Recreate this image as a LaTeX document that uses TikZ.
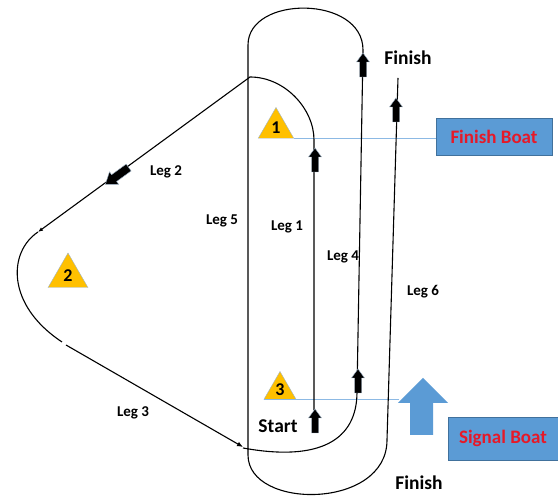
\documentclass[tikz,border=0pt]{standalone}
\usepackage{fontspec}
\setmainfont{Carlito}
\usepackage{tikz}
\usetikzlibrary{calc,arrows.meta,shapes.geometric}
\definecolor{markgold}{RGB}{255,192,0}
\definecolor{markedge}{RGB}{160,180,200}
\definecolor{boatblue}{RGB}{91,155,213}
\definecolor{boatedge}{RGB}{65,113,156}
\definecolor{boatred}{RGB}{230,25,40}
\definecolor{guideblue}{RGB}{140,185,228}
\tikzset{
  blockarrow/.pic={
    \filldraw[fill=black, draw=markedge, line width=.4pt]
      (-3.5,-12) -- (-3.5,3) -- (-6.5,3) -- (0,12) -- (6.5,3) -- (3.5,3) -- (3.5,-12) -- cycle;
  }
}

\begin{document}
\begin{tikzpicture}[x=1pt,y=1pt,
    course/.style={line width=1.1pt},
    guide/.style={guideblue, line width=1pt},
    legtext/.style={font=\fontsize{15}{15}\selectfont\bfseries},
    bigtext/.style={font=\fontsize{19.5}{19.5}\selectfont\bfseries},
    buoy/.style={regular polygon, regular polygon sides=3, fill=markgold, draw=markedge,
                 inner sep=0pt, font=\fontsize{18}{18}\selectfont\bfseries},
    boat/.style={rectangle, fill=boatblue, draw=boatedge, text=boatred, inner sep=0pt,
                 font=\fontsize{19}{19}\selectfont\bfseries}]
    \useasboundingbox (0,0) rectangle (558,500);

    % the marks
    \node[buoy, minimum size=41pt] (m1) at (276,372) {1};
    \node[buoy, minimum size=46pt] (m2) at (68,224) {2};
    \node[buoy, minimum size=37pt] (m3) at (280,110) {3};

    % the boats
    \node[boat, minimum width=116pt, minimum height=37pt] (fboat) at (494,363.5) {Finish Boat};
    \node[boat, minimum width=110pt, minimum height=43pt] (sboat) at (503,61.5) {Signal Boat};
    \fill[boatblue] (410,65) -- (410,97) -- (398,97) -- (423,122) -- (448,97) -- (433,97) -- (433,65) -- cycle;
    \coordinate (sigarrow) at (399,97);

    % lines of the boats
    \draw[guide] (m1.corner 3) -- (m1.corner 3 -| fboat.west);
    \draw[guide] (m3.corner 2) -- (m3.corner 2 -| sigarrow);

    % legs 1 and 2
    \draw[course, -{Latex[length=5pt,width=4pt]}] (314,90) -- (314,360)
        .. controls (314,391) and (285,423) .. (250,423) -- (38,268);
    % round mark 2, leg 3
    \draw[course] (38,268) .. controls (8,248) and (6,195) .. (62,158);
    \draw[course, -{Latex[length=6pt,width=5pt]}] (66,155) -- (243,53);
    % legs 4, 5 and 6
    \draw[course] (243,52) .. controls (320,38) and (357,60) .. (357,108) -- (363,450)
        .. controls (363,505) and (248,505) .. (248,455) -- (248,45)
        .. controls (248,-10) and (387,-10) .. (387,60) -- (398,422);

    % arrows on the legs
    \pic at (315,79) {blockarrow};
    \pic at (315,340) {blockarrow};
    \pic at (358,119) {blockarrow};
    \pic at (363,435) {blockarrow};
    \pic at (396,390) {blockarrow};
    \pic[rotate=126, scale=1.2] at (117,324) {blockarrow};

    % labels
    \node[legtext] (leg1) at (287,273) {Leg 1};
    \node[legtext] (leg2) at (166,328) {Leg 2};
    \node[legtext] (leg3) at (133,87) {Leg 3};
    \node[legtext] (leg4) at (343,243) {Leg 4};
    \node[legtext] (leg5) at (222,279) {Leg 5};
    \node[legtext] (leg6) at (423,208) {Leg 6};
    \node[bigtext] (start) at (278,74) {Start};
    \node[bigtext] (fintop) at (408,442) {Finish};
    \node[bigtext] (finbot) at (419,17) {Finish};
\end{tikzpicture}
\end{document}
